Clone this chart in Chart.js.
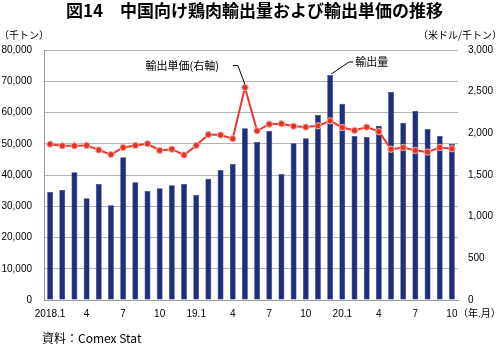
<!DOCTYPE html>
<html>
<head>
<meta charset="utf-8">
<script src="https://cdn.jsdelivr.net/npm/chart.js@4"></script>
<style>
  body { margin: 0; background: #fff; }
  #wrap { width: 502px; height: 346px; }
</style>
</head>
<body>
<div id="wrap"><canvas id="chart" width="502" height="346"></canvas></div>
<script>
// 月ラベル (2018.1 ～ 2020.10)
const months = [
  "2018.1", "2", "3", "4", "5", "6", "7", "8", "9", "10", "11", "12",
  "19.1", "2", "3", "4", "5", "6", "7", "8", "9", "10", "11", "12",
  "20.1", "2", "3", "4", "5", "6", "7", "8", "9", "10"
];

// 輸出量 (千トン)
const exportVolume = [
  34600, 35200, 40900, 32600, 37100, 30300, 45700, 37700, 34900, 35800, 36700, 37100,
  33600, 38800, 41600, 43500, 55000, 50600, 54100, 40300, 50200, 51800, 59200, 72000,
  62800, 52500, 52200, 55700, 66600, 56700, 60500, 54700, 52500, 49900
];

// 輸出単価 (米ドル/千トン)
const unitPrice = [
  1870, 1850, 1850, 1855, 1800, 1745, 1830, 1855, 1875, 1795, 1810, 1740,
  1855, 1985, 1980, 1935, 2550, 2030, 2110, 2115, 2085, 2075, 2090, 2150,
  2070, 2035, 2075, 2020, 1810, 1830, 1795, 1775, 1830, 1815
];

const leftTicks = { min: 0, max: 80000, step: 10000 };
const rightTicks = { min: 0, max: 3000, step: 500 };

const jpFont = '"Noto Sans CJK JP", sans-serif';
const numFont = '"Liberation Sans", Arial, sans-serif';

// タイトル・単位・注記などを描く
const decorations = {
  id: "decorations",
  afterDraw(chart) {
    const ctx = chart.ctx;
    const area = chart.chartArea;
    ctx.save();
    ctx.fillStyle = "#000";

    // タイトル
    ctx.font = 'bold 17px ' + jpFont;
    ctx.textAlign = "left";
    ctx.textBaseline = "middle";
    ctx.fillText("図14　中国向け鶏肉輸出量および輸出単価の推移", 66, 11);

    // 単位
    ctx.font = '10px ' + jpFont;
    ctx.fillText("（千トン）", -1, 35);
    ctx.textAlign = "right";
    ctx.fillText("（米ドル/千トン）", 502, 35);
    ctx.textAlign = "left";
    ctx.fillText("（年.月）", area.right, 313);

    // 資料
    ctx.font = '12px ' + jpFont;
    ctx.fillText("資料：Comex Stat", 42, 338);

    // 注記: 輸出単価(右軸)
    const pMeta = chart.getDatasetMeta(0);
    const peak = unitPrice.indexOf(Math.max(...unitPrice));
    const p = pMeta.data[peak];
    ctx.strokeStyle = "#000";
    ctx.lineWidth = 1;
    ctx.beginPath();
    ctx.moveTo(p.x, p.y - 3);
    ctx.lineTo(p.x - 7, p.y - 22);
    ctx.lineTo(p.x - 12, p.y - 22);
    ctx.stroke();
    ctx.font = '11px ' + jpFont;
    ctx.textAlign = "right";
    ctx.fillText("輸出単価(右軸)", p.x - 26, p.y - 22);

    // 注記: 輸出量
    const bMeta = chart.getDatasetMeta(1);
    const top = exportVolume.indexOf(Math.max(...exportVolume));
    const b = bMeta.data[top];
    ctx.beginPath();
    ctx.moveTo(b.x + 1, b.y - 1);
    ctx.lineTo(b.x + 19, b.y - 13);
    ctx.lineTo(b.x + 23, b.y - 13);
    ctx.stroke();
    ctx.textAlign = "left";
    ctx.fillText("輸出量", b.x + 25, b.y - 13);

    ctx.restore();
  }
};

const ctx = document.getElementById("chart").getContext("2d");

new Chart(ctx, {
  data: {
    labels: months,
    datasets: [
      {
        type: "line",
        label: "輸出単価(右軸)",
        data: unitPrice,
        yAxisID: "y1",
        borderColor: "#e63b2e",
        borderWidth: 2,
        pointRadius: 3.2,
        pointBackgroundColor: "#e2342a",
        pointBorderColor: "#f6b4a6",
        pointBorderWidth: 1,
        tension: 0,
        order: 0
      },
      {
        type: "bar",
        label: "輸出量",
        data: exportVolume,
        yAxisID: "y",
        backgroundColor: "#202f7d",
        borderColor: "#121c55",
        borderWidth: 0.5,
        barPercentage: 0.48,
        categoryPercentage: 1,
        order: 1
      }
    ]
  },
  options: {
    responsive: false,
    animation: false,
    layout: { padding: { top: 50, left: 0, right: 0, bottom: 0 } },
    plugins: {
      legend: { display: false },
      tooltip: { enabled: false }
    },
    scales: {
      x: {
        grid: { display: false, drawTicks: false },
        border: { display: true, color: "#9a9a9a" },
        ticks: {
          autoSkip: false,
          maxRotation: 0,
          minRotation: 0,
          padding: 8,
          color: "#000",
          font: { family: numFont, size: 10 },
          callback: (v, i) => (i % 3 === 0 ? months[i] : "")
        },
        afterFit: s => { s.height = 46; }
      },
      y: {
        position: "left",
        min: leftTicks.min,
        max: leftTicks.max,
        grid: { color: "#b4b4b4", drawTicks: false },
        border: { display: true, color: "#9a9a9a" },
        ticks: {
          stepSize: leftTicks.step,
          padding: 12,
          color: "#000",
          font: { family: numFont, size: 10 },
          callback: v => v.toLocaleString("en-US")
        },
        afterFit: s => { s.width = 44; }
      },
      y1: {
        position: "right",
        min: rightTicks.min,
        max: rightTicks.max,
        grid: { display: false, drawTicks: false },
        border: { display: false },
        ticks: {
          stepSize: rightTicks.step,
          padding: 10,
          color: "#000",
          font: { family: numFont, size: 10 },
          callback: v => v.toLocaleString("en-US")
        },
        afterFit: s => { s.width = 44; }
      }
    }
  },
  plugins: [decorations]
});
</script>
</body>
</html>
